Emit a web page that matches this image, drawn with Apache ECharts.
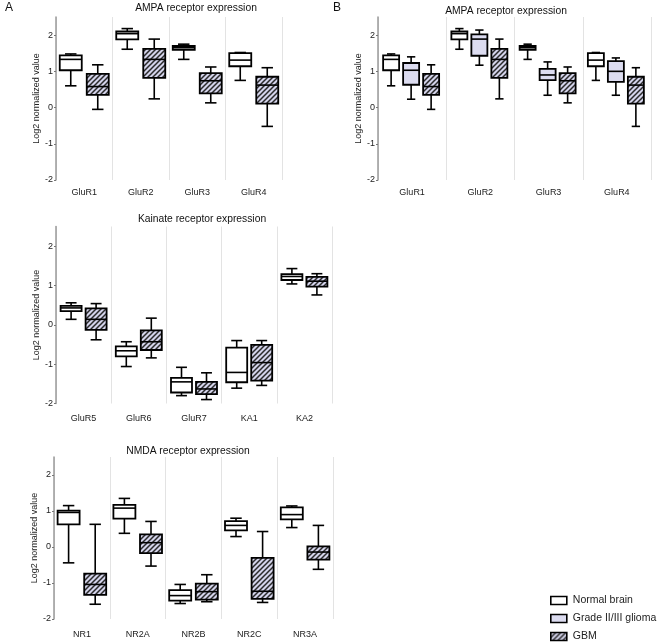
<!DOCTYPE html>
<html><head><meta charset="utf-8">
<script src="https://cdn.jsdelivr.net/npm/echarts@6/dist/echarts.min.js"></script>
<style>html,body{margin:0;padding:0;background:#fff}#c{width:661px;height:643px}</style>
</head><body><div id="c"></div>
<script>
// ---- data: [min, Q1, median, Q3, max] ----
const categoriesAMPA = ['GluR1','GluR2','GluR3','GluR4'];
const ampaNormal = [[0.60,1.03,1.33,1.44,1.48],[1.61,1.88,2.04,2.10,2.18],[1.33,1.59,1.65,1.70,1.75],[0.75,1.14,1.31,1.50,1.52]];
const ampaGrade  = [[0.23,0.63,1.03,1.23,1.40],[1.17,1.43,1.89,2.02,2.14],[0.34,0.76,0.90,1.07,1.26],[0.34,0.71,1.00,1.28,1.37]];
const ampaGBM    = [[-0.05,0.35,0.58,0.93,1.18],[0.24,0.82,1.33,1.62,1.89],[0.13,0.39,0.74,0.95,1.12],[-0.52,0.11,0.62,0.85,1.10]];

const categoriesKainate = ['GluR5','GluR6','GluR7','KA1','KA2'];
const kainateNormal = [[0.14,0.35,0.43,0.48,0.56],[-1.06,-0.80,-0.66,-0.55,-0.43],[-1.80,-1.72,-1.45,-1.35,-1.08],[-1.61,-1.46,-1.21,-0.58,-0.40],[1.04,1.14,1.23,1.29,1.43]];
const kainateGBM    = [[-0.38,-0.13,0.14,0.42,0.54],[-0.84,-0.64,-0.43,-0.14,0.17],[-1.90,-1.76,-1.63,-1.45,-1.22],[-1.54,-1.42,-0.96,-0.51,-0.40],[0.76,0.97,1.11,1.22,1.30]];

const categoriesNMDA = ['NR1','NR2A','NR2B','NR2C','NR3A'];
const nmdaNormal = [[-0.44,0.63,0.96,1.01,1.15],[0.38,0.79,1.08,1.17,1.35],[-1.57,-1.49,-1.35,-1.20,-1.04],[0.29,0.46,0.60,0.72,0.80],[0.54,0.77,0.90,1.10,1.14]];
const nmdaGBM    = [[-1.59,-1.33,-1.04,-0.74,0.63],[-0.53,-0.17,0.12,0.35,0.71],[-1.52,-1.46,-1.24,-1.02,-0.77],[-1.54,-1.44,-1.23,-0.30,0.43],[-0.62,-0.35,-0.14,0.02,0.60]];

const yTicks = [-2,-1,0,1,2];
const seriesNames = ['Normal brain','Grade II/III glioma','GBM'];

// ---- styles ----
const FONT = 'Liberation Sans, Arial, sans-serif';
function makeHatch(){
  const s = 5, cv = document.createElement('canvas');
  cv.width = s; cv.height = s;
  const g = cv.getContext('2d');
  g.fillStyle = '#d3d3ea'; g.fillRect(0,0,s,s);
  g.strokeStyle = '#2a2a2a'; g.lineWidth = 1.5;
  g.beginPath();
  g.moveTo(-1, s+1); g.lineTo(s+1, -1);
  g.moveTo(-1, 1); g.lineTo(1, -1);
  g.moveTo(s-1, s+1); g.lineTo(s+1, s-1);
  g.stroke();
  return cv;
}
const hatch = {image: makeHatch(), repeat: 'repeat'};
const fills = {'Normal brain': '#ffffff', 'Grade II/III glioma': '#dcdcf0', 'GBM': hatch};

function boxSeries(name, data, grid, offset, width){
  const fill = fills[name];
  return {
    type: 'custom', name: name, xAxisIndex: grid, yAxisIndex: grid,
    itemStyle: {color: fill, borderColor: '#000', borderWidth: 1.6},
    encode: {x: 0, y: [1,2,3,4,5]},
    data: data.map((d, i) => [i].concat(d)),
    renderItem: function(params, api){
      const xi = api.value(0);
      const cx = api.coord([xi, 0])[0] + offset;
      const y = k => api.coord([xi, api.value(k)])[1];
      const yMin = y(1), yQ1 = y(2), yMed = y(3), yQ3 = y(4), yMax = y(5);
      const hw = width/2, cap = width*0.26;
      const ls = {stroke: '#000', lineWidth: 1.6, fill: null};
      return {type: 'group', children: [
        {type: 'line', shape: {x1: cx, y1: yQ3, x2: cx, y2: yMax}, style: ls},
        {type: 'line', shape: {x1: cx, y1: yQ1, x2: cx, y2: yMin}, style: ls},
        {type: 'line', shape: {x1: cx-cap, y1: yMax, x2: cx+cap, y2: yMax}, style: ls},
        {type: 'line', shape: {x1: cx-cap, y1: yMin, x2: cx+cap, y2: yMin}, style: ls},
        {type: 'rect', shape: {x: cx-hw, y: yQ3, width: width, height: yQ1-yQ3},
          style: {fill: fill, stroke: '#000', lineWidth: 1.8}},
        {type: 'line', shape: {x1: cx-hw, y1: yMed, x2: cx+hw, y2: yMed}, style: ls}
      ]};
    }
  };
}

function xAxis(grid, cats, margin){
  return {type: 'category', gridIndex: grid, data: cats, boundaryGap: true,
    axisLine: {show: false}, axisTick: {show: false},
    axisLabel: {color: '#222', fontSize: 9, fontFamily: FONT, margin: margin},
    splitLine: {show: true, lineStyle: {color: '#e3e3e3', width: 1}}};
}
function yAxis(grid, gap){
  return {type: 'value', gridIndex: grid, min: -2, max: 2.5, interval: 1,
    name: 'Log2 normalized value', nameLocation: 'middle', nameGap: gap,
    nameTextStyle: {color: '#222', fontSize: 9, fontFamily: FONT},
    axisLine: {show: true, lineStyle: {color: '#9a9a9a', width: 1.5}},
    axisTick: {show: true, length: 2, lineStyle: {color: '#777'}, customValues: yTicks},
    axisLabel: {color: '#222', fontSize: 9, fontFamily: FONT, margin: 3, customValues: yTicks},
    splitLine: {show: false}};
}

const grids = [
  {left: 56, top: 17, width: 226, height: 163},
  {left: 378, top: 17, width: 273, height: 163},
  {left: 56, top: 226.5, width: 276, height: 177},
  {left: 54, top: 457, width: 279, height: 162}
].map(g => Object.assign({outerBoundsMode: 'none', containLabel: false}, g));

function txt(x, y, t, size){
  return {type: 'text', x: x, y: y, silent: true,
    style: {text: t, fill: '#111', font: size + 'px ' + FONT, textAlign: 'center', textVerticalAlign: 'middle'}};
}

const option = {
  animation: false,
  backgroundColor: '#fff',
  grid: grids,
  xAxis: [xAxis(0, categoriesAMPA, 8), xAxis(1, categoriesAMPA, 8), xAxis(2, categoriesKainate, 11), xAxis(3, categoriesNMDA, 11)],
  yAxis: [yAxis(0, 14), yAxis(1, 14), yAxis(2, 14), yAxis(3, 12)],
  series: [
    boxSeries('Normal brain', ampaNormal, 0, -13.5, 22),
    boxSeries('GBM', ampaGBM, 0, 13.5, 22),
    boxSeries('Normal brain', ampaNormal, 1, -21, 16),
    boxSeries('Grade II/III glioma', ampaGrade, 1, -1, 16),
    boxSeries('GBM', ampaGBM, 1, 19, 16),
    boxSeries('Normal brain', kainateNormal, 2, -12.5, 21),
    boxSeries('GBM', kainateGBM, 2, 12.5, 21),
    boxSeries('Normal brain', nmdaNormal, 3, -13.3, 22),
    boxSeries('GBM', nmdaGBM, 3, 13.3, 22)
  ],
  legend: {
    orient: 'vertical', left: 550, top: 595, itemWidth: 16, itemHeight: 8, itemGap: 7,
    selectedMode: false, padding: 0,
    textStyle: {color: '#222', fontSize: 10.5, fontFamily: FONT, padding: [0,0,0,1]},
    data: seriesNames.map(n => ({name: n, icon: 'rect',
      itemStyle: {color: fills[n], borderColor: '#000', borderWidth: 1.6}}))
  },
  graphic: [
    txt(9, 8, 'A', 12), txt(337, 8, 'B', 12),
    txt(196, 8, 'AMPA receptor expression', 10.3),
    txt(506, 11, 'AMPA receptor expression', 10.3),
    txt(202, 219, 'Kainate receptor expression', 10.3),
    txt(188, 451, 'NMDA receptor expression', 10.3)
  ]
};
const chart = echarts.init(document.getElementById('c'), null, {renderer: 'canvas'});
chart.setOption(option);
</script></body></html>
